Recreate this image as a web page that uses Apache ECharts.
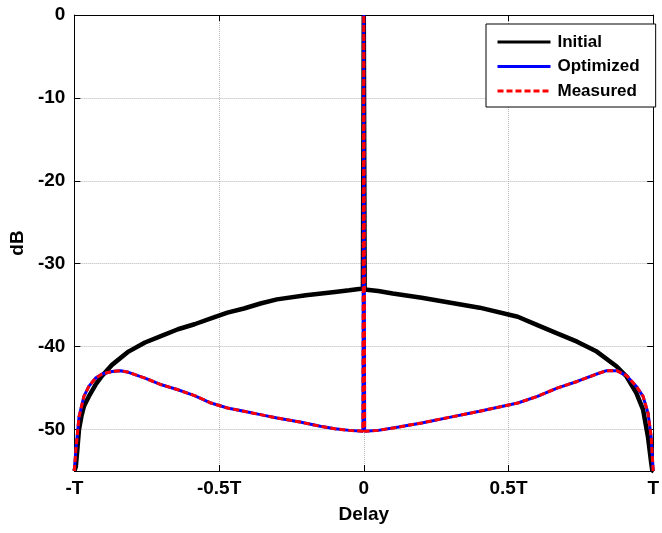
<!DOCTYPE html>
<html>
<head>
<meta charset="utf-8">
<script src="https://cdn.jsdelivr.net/npm/echarts@6/dist/echarts.min.js"></script>
<style>html,body{margin:0;padding:0;background:#fff;}#c{width:662px;height:533px;}</style>
</head>
<body>
<div id="c"></div>
<script>
// Delay in units of T
var initialX = [-1, -0.995, -0.99, -0.984, -0.975, -0.967, -0.95, -0.927, -0.904, -0.87, -0.813, -0.756, -0.699, -0.642, -0.585, -0.528, -0.471, -0.414, -0.357, -0.3, -0.2, -0.1, -0.05, -0.003, 0, 0.003, 0.05, 0.1, 0.2, 0.3, 0.4, 0.532, 0.6, 0.668, 0.737, 0.805, 0.874, 0.908, 0.942, 0.965, 0.982, 0.993, 0.997, 1];
var initialY = [-55, -54.5, -52.5, -50, -48.3, -47.2, -46, -44.6, -43.5, -42.2, -40.6, -39.5, -38.7, -37.9, -37.3, -36.6, -35.9, -35.4, -34.8, -34.3, -33.8, -33.4, -33.2, -33, 0, -33.1, -33.3, -33.6, -34.1, -34.7, -35.3, -36.4, -37.4, -38.4, -39.4, -40.6, -42.4, -43.6, -45.6, -47.6, -50.9, -54, -55, -55];

var optX = [-1, -0.995, -0.984, -0.967, -0.95, -0.927, -0.904, -0.87, -0.84, -0.813, -0.756, -0.699, -0.642, -0.585, -0.528, -0.471, -0.414, -0.357, -0.3, -0.22, -0.15, -0.1, -0.05, -0.003, 0, 0.003, 0.05, 0.12, 0.2, 0.3, 0.4, 0.532, 0.6, 0.668, 0.737, 0.805, 0.839, 0.874, 0.908, 0.942, 0.965, 0.982, 0.993, 1];
var optY = [-55, -52.5, -48.5, -46, -44.8, -43.8, -43.3, -43, -42.9, -43.1, -43.8, -44.6, -45.2, -45.9, -46.8, -47.4, -47.8, -48.2, -48.6, -49.1, -49.6, -49.9, -50.1, -50.2, 0, -50.2, -50.1, -49.7, -49.2, -48.5, -47.8, -46.8, -46, -45, -44.2, -43.3, -42.9, -42.9, -43.5, -44.8, -46, -48, -50.9, -55];

var measX = optX;
var measY = [-55, -52.5, -48.5, -46, -44.8, -43.8, -43.3, -43, -42.9, -43.1, -43.8, -44.6, -45.2, -45.9, -46.8, -47.4, -47.8, -48.2, -48.6, -49.1, -49.6, -49.9, -50.1, -50.2, 0, -50.2, -50.1, -49.7, -49.2, -48.5, -47.8, -46.8, -46, -45, -44.2, -43.3, -42.9, -42.9, -43.5, -44.8, -46, -48, -50.9, -55];

var xTickValues = [-1, -0.5, 0, 0.5, 1];
var xTickLabels = ['-T', '-0.5T', '0', '0.5T', 'T'];
var yTickValues = [0, -10, -20, -30, -40, -50];

function pairs(xs, ys) { return xs.map(function (x, i) { return [x, ys[i]]; }); }

var font = 'Liberation Sans, Arial, sans-serif';
var chart = echarts.init(document.getElementById('c'), null, {renderer: 'canvas'});
var baseX = {
  type: 'value', min: -1, max: 1, interval: 0.5,
  axisLine: {show: true, onZero: false, lineStyle: {color: '#000', width: 1}},
  axisTick: {show: true, inside: true, length: 6, lineStyle: {color: '#000'}},
  splitLine: {show: false}
};
var baseY = {
  type: 'value', min: -55, max: 0,
  axisLine: {show: true, onZero: false, lineStyle: {color: '#000', width: 1}},
  axisTick: {show: true, inside: true, length: 6, customValues: yTickValues, lineStyle: {color: '#000'}},
  splitLine: {show: false}
};
chart.setOption({
  animation: false,
  backgroundColor: '#fff',
  grid: {left: 72, right: 5, top: 15, bottom: 62, containLabel: false},
  xAxis: [
    Object.assign({}, baseX, {
      position: 'bottom',
      name: 'Delay', nameLocation: 'middle', nameGap: 34,
      nameTextStyle: {fontFamily: font, fontWeight: 'bold', fontSize: 19, color: '#000'},
      axisLabel: {show: true, margin: 8, fontFamily: font, fontWeight: 'bold', fontSize: 19, color: '#000',
        formatter: function (v) { var i = xTickValues.indexOf(v); return i >= 0 ? xTickLabels[i] : ''; }},
      splitLine: {show: true, lineStyle: {color: '#b4b4b4', type: 'dotted', width: 1}}
    }),
    Object.assign({}, baseX, {position: 'top', axisLabel: {show: false}})
  ],
  yAxis: [
    Object.assign({}, baseY, {
      position: 'left',
      name: 'dB', nameLocation: 'middle', nameGap: 41, nameRotate: 90,
      nameTextStyle: {fontFamily: font, fontWeight: 'bold', fontSize: 19, color: '#000'},
      axisLabel: {show: true, margin: 9, customValues: yTickValues, fontFamily: font, fontWeight: 'bold', fontSize: 19, color: '#000'},
      splitLine: {show: true, lineStyle: {color: '#b4b4b4', type: 'dotted', width: 1}}
    }),
    Object.assign({}, baseY, {position: 'right', axisLabel: {show: false}})
  ],
  legend: {
    orient: 'vertical', left: 486, top: 24,
    padding: [9.5, 16, 7.5, 10],
    itemWidth: 53, itemHeight: 14, itemGap: 7.5,
    backgroundColor: '#fff', borderColor: '#000', borderWidth: 1,
    itemStyle: {opacity: 0},
    lineStyle: {width: 3},
    textStyle: {fontFamily: font, fontWeight: 'bold', fontSize: 17, color: '#000', padding: [0, 0, 0, 2]},
    data: ['Initial', 'Optimized', 'Measured']
  },
  series: [
    {name: 'Initial', type: 'line', data: pairs(initialX, initialY), symbol: 'none', z: 2,
      lineStyle: {color: '#000', width: 4.5}, itemStyle: {color: '#000'}},
    {name: 'Optimized', type: 'line', data: pairs(optX, optY), symbol: 'none', z: 3,
      lineStyle: {color: '#0000ff', width: 3}, itemStyle: {color: '#0000ff'}},
    {name: 'Measured', type: 'line', data: pairs(measX, measY), symbol: 'none', z: 4,
      lineStyle: {color: '#ff0000', width: 3, type: [6, 3]}, itemStyle: {color: '#ff0000'}}
  ]
});
</script>
</body>
</html>
